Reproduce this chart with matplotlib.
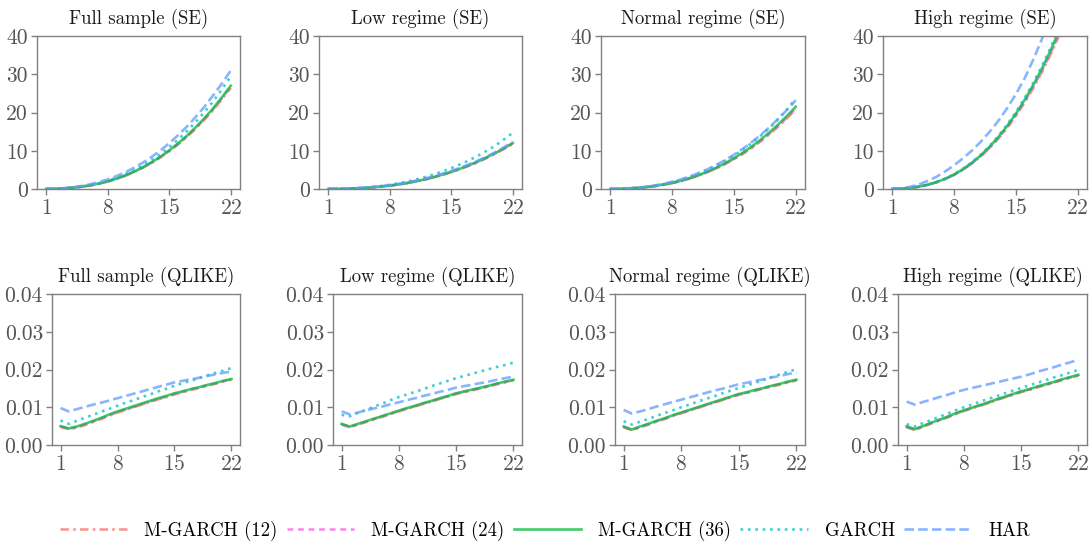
import matplotlib
matplotlib.use("Agg")
import matplotlib.pyplot as plt

plt.rcParams["font.family"] = ["cmr10", "DejaVu Serif"]
plt.rcParams["axes.formatter.use_mathtext"] = True

horizons = list(range(1, 23))
xticks = [1, 8, 15, 22]

models = ["M-GARCH (12)", "M-GARCH (24)", "M-GARCH (36)", "GARCH", "HAR"]
colors = ["#F8766D", "#F564E3", "#00BA38", "#00BFC4", "#619CFF"]

panel_titles_se = ["Full sample (SE)", "Low regime (SE)", "Normal regime (SE)", "High regime (SE)"]
panel_titles_ql = ["Full sample (QLIKE)", "Low regime (QLIKE)", "Normal regime (QLIKE)", "High regime (QLIKE)"]

# ---- squared-error loss by horizon ----
se_full_m12 = [0.01, 0.06, 0.16, 0.33, 0.58, 0.93, 1.38, 1.95, 2.64, 3.47, 4.44, 5.56, 6.84, 8.27, 9.88, 11.65, 13.6, 15.75, 18.1, 20.65, 23.5, 26.4]
se_full_m24 = [0.01, 0.06, 0.16, 0.33, 0.59, 0.95, 1.40, 1.98, 2.68, 3.52, 4.50, 5.63, 6.92, 8.36, 10.0, 11.8, 13.75, 15.9, 18.3, 20.9, 23.75, 26.7]
se_full_m36 = [0.01, 0.06, 0.16, 0.34, 0.60, 0.96, 1.42, 2.0, 2.71, 3.56, 4.55, 5.69, 6.99, 8.45, 10.1, 11.9, 13.9, 16.1, 18.5, 21.1, 24.0, 27.0]
se_full_garch = [0.01, 0.06, 0.17, 0.36, 0.64, 1.03, 1.53, 2.15, 2.92, 3.84, 4.92, 6.15, 7.56, 9.15, 10.95, 12.9, 15.1, 17.5, 20.1, 22.9, 26.1, 29.5]
se_full_har = [0.01, 0.08, 0.22, 0.45, 0.79, 1.23, 1.81, 2.52, 3.37, 4.38, 5.56, 6.89, 8.40, 10.1, 11.97, 14.07, 16.3, 18.8, 21.5, 24.5, 27.6, 31.0]

se_low_m12 = [0.005, 0.025, 0.07, 0.15, 0.26, 0.42, 0.63, 0.87, 1.18, 1.55, 1.99, 2.48, 3.05, 3.69, 4.41, 5.2, 6.07, 7.03, 8.08, 9.22, 10.46, 11.8]
se_low_m24 = [0.005, 0.025, 0.07, 0.15, 0.26, 0.43, 0.63, 0.88, 1.19, 1.56, 2.01, 2.5, 3.08, 3.72, 4.45, 5.24, 6.12, 7.09, 8.15, 9.31, 10.56, 11.9]
se_low_m36 = [0.005, 0.025, 0.07, 0.15, 0.26, 0.43, 0.64, 0.89, 1.2, 1.58, 2.03, 2.53, 3.11, 3.76, 4.49, 5.29, 6.18, 7.16, 8.23, 9.40, 10.66, 12.0]
se_low_garch = [0.01, 0.04, 0.1, 0.2, 0.35, 0.55, 0.8, 1.12, 1.5, 1.96, 2.5, 3.1, 3.8, 4.58, 5.45, 6.42, 7.48, 8.65, 9.93, 11.32, 12.95, 14.7]
se_low_har = [0.01, 0.04, 0.1, 0.19, 0.32, 0.5, 0.73, 1.0, 1.34, 1.74, 2.2, 2.73, 3.33, 3.99, 4.72, 5.53, 6.42, 7.4, 8.46, 9.6, 10.9, 12.3]

se_norm_m12 = [0.01, 0.04, 0.12, 0.26, 0.45, 0.73, 1.1, 1.54, 2.08, 2.75, 3.51, 4.39, 5.39, 6.51, 7.78, 9.17, 10.71, 12.42, 14.27, 16.28, 18.47, 20.8]
se_norm_m24 = [0.01, 0.04, 0.13, 0.26, 0.46, 0.74, 1.11, 1.55, 2.1, 2.77, 3.55, 4.44, 5.44, 6.58, 7.86, 9.26, 10.82, 12.55, 14.41, 16.44, 18.65, 21.0]
se_norm_m36 = [0.01, 0.045, 0.13, 0.27, 0.47, 0.76, 1.14, 1.59, 2.15, 2.84, 3.63, 4.54, 5.57, 6.73, 8.04, 9.48, 11.07, 12.84, 14.75, 16.83, 19.09, 21.5]
se_norm_garch = [0.01, 0.05, 0.15, 0.31, 0.54, 0.86, 1.27, 1.78, 2.4, 3.14, 4.0, 4.98, 6.1, 7.35, 8.75, 10.3, 12.0, 13.87, 15.9, 18.2, 20.8, 23.6]
se_norm_har = [0.01, 0.06, 0.17, 0.34, 0.59, 0.92, 1.35, 1.89, 2.52, 3.28, 4.16, 5.15, 6.28, 7.56, 8.95, 10.5, 12.2, 14.06, 16.08, 18.33, 20.65, 23.2]

se_high_m12 = [0.016, 0.1, 0.28, 0.6, 1.08, 1.74, 2.6, 3.68, 5.01, 6.62, 8.49, 10.66, 13.15, 15.96, 19.1, 22.65, 26.53, 30.8, 35.5, 40.64, 46.17, 52.09]
se_high_m24 = [0.016, 0.1, 0.28, 0.61, 1.09, 1.75, 2.63, 3.71, 5.07, 6.68, 8.58, 10.77, 13.29, 16.12, 19.31, 22.88, 26.8, 31.12, 35.87, 41.06, 46.65, 52.63]
se_high_m36 = [0.016, 0.1, 0.29, 0.62, 1.11, 1.79, 2.68, 3.79, 5.17, 6.82, 8.75, 10.99, 13.56, 16.45, 19.7, 23.35, 27.35, 31.75, 36.6, 41.9, 47.6, 53.7]
se_high_garch = [0.016, 0.1, 0.3, 0.63, 1.13, 1.83, 2.73, 3.87, 5.27, 6.96, 8.93, 11.21, 13.83, 16.78, 20.09, 23.82, 27.9, 32.39, 37.33, 42.74, 48.55, 54.77]
se_high_har = [0.05, 0.2, 0.55, 1.2, 2.1, 3.2, 4.6, 6.2, 8.0, 10.0, 12.3, 14.9, 17.8, 21.1, 24.8, 29.0, 34.0, 39.5, 45.3, 51.5, 58.0, 64.8]

# ---- QLIKE loss by horizon ----
ql_full_m12 = [.0048, .0042, .0046, .0053, .0061, .0069, .0078, .0086, .0093, .0100, .0107, .0114, .0121, .0127, .0134, .0140, .0146, .0151, .0157, .0162, .0168, .0173]
ql_full_m24 = [.0049, .0043, .0047, .0054, .0062, .0070, .0079, .0087, .0094, .0101, .0108, .0115, .0122, .0128, .0135, .0141, .0147, .0152, .0158, .0163, .0169, .0174]
ql_full_m36 = [.0050, .0044, .0049, .0056, .0064, .0072, .0081, .0089, .0096, .0103, .0110, .0117, .0124, .0130, .0137, .0142, .0148, .0153, .0159, .0164, .0170, .0175]
ql_full_garch = [.0065, .0056, .0064, .0072, .0080, .0088, .0096, .0104, .0112, .0119, .0127, .0134, .0142, .0149, .0157, .0164, .0170, .0177, .0184, .0191, .0197, .0204]
ql_full_har = [.0098, .0089, .0095, .0101, .0107, .0112, .0118, .0124, .0130, .0136, .0142, .0148, .0154, .0160, .0166, .0170, .0174, .0178, .0183, .0187, .0191, .0195]

ql_low_m12 = [.0054, .0047, .0054, .0061, .0068, .0075, .0082, .0089, .0096, .0102, .0109, .0115, .0122, .0128, .0135, .0140, .0145, .0150, .0155, .0161, .0166, .0171]
ql_low_m24 = [.0055, .0048, .0055, .0062, .0069, .0076, .0083, .0090, .0097, .0103, .0110, .0116, .0123, .0129, .0136, .0141, .0146, .0151, .0156, .0162, .0167, .0172]
ql_low_m36 = [.0056, .0049, .0056, .0063, .0070, .0077, .0084, .0091, .0098, .0104, .0111, .0117, .0124, .0130, .0137, .0142, .0147, .0152, .0157, .0163, .0168, .0173]
ql_low_garch = [.0080, .0076, .0085, .0093, .0102, .0110, .0119, .0127, .0134, .0141, .0148, .0156, .0163, .0170, .0177, .0183, .0189, .0195, .0201, .0207, .0212, .0218]
ql_low_har = [.0089, .0081, .0086, .0092, .0097, .0102, .0108, .0113, .0119, .0124, .0130, .0135, .0141, .0146, .0152, .0156, .0160, .0164, .0168, .0173, .0177, .0181]

ql_norm_m12 = [.0047, .0039, .0047, .0054, .0062, .0069, .0077, .0084, .0091, .0098, .0105, .0112, .0119, .0126, .0133, .0138, .0144, .0149, .0155, .0160, .0166, .0171]
ql_norm_m24 = [.0048, .0040, .0048, .0055, .0063, .0070, .0078, .0085, .0092, .0099, .0106, .0113, .0120, .0127, .0134, .0139, .0145, .0150, .0156, .0161, .0167, .0172]
ql_norm_m36 = [.0049, .0041, .0049, .0056, .0064, .0071, .0079, .0086, .0093, .0100, .0107, .0114, .0121, .0128, .0135, .0140, .0146, .0151, .0157, .0162, .0168, .0173]
ql_norm_garch = [.0063, .0054, .0062, .0069, .0077, .0085, .0092, .0100, .0107, .0115, .0122, .0129, .0137, .0144, .0151, .0158, .0165, .0172, .0180, .0187, .0194, .0201]
ql_norm_har = [.0093, .0083, .0089, .0095, .0102, .0108, .0114, .0120, .0126, .0132, .0138, .0144, .0149, .0155, .0161, .0165, .0170, .0174, .0179, .0183, .0188, .0192]

ql_high_m12 = [.0047, .0040, .0048, .0057, .0065, .0073, .0082, .0090, .0097, .0104, .0111, .0119, .0126, .0133, .0140, .0146, .0153, .0159, .0165, .0172, .0178, .0184]
ql_high_m24 = [.0048, .0041, .0049, .0058, .0066, .0074, .0083, .0091, .0098, .0105, .0112, .0120, .0127, .0134, .0141, .0147, .0154, .0160, .0166, .0173, .0179, .0185]
ql_high_m36 = [.0049, .0042, .0050, .0059, .0067, .0075, .0084, .0092, .0099, .0106, .0113, .0121, .0128, .0135, .0142, .0148, .0155, .0161, .0167, .0174, .0180, .0186]
ql_high_garch = [.0055, .0049, .0058, .0066, .0075, .0083, .0092, .0100, .0107, .0115, .0122, .0129, .0137, .0144, .0151, .0158, .0165, .0172, .0179, .0185, .0192, .0199]
ql_high_har = [.0115, .0107, .0114, .0120, .0127, .0133, .0140, .0146, .0151, .0156, .0161, .0166, .0171, .0176, .0181, .0187, .0194, .0200, .0206, .0213, .0219, .0226]

se_panels = [
    [se_full_m12, se_full_m24, se_full_m36, se_full_garch, se_full_har],
    [se_low_m12, se_low_m24, se_low_m36, se_low_garch, se_low_har],
    [se_norm_m12, se_norm_m24, se_norm_m36, se_norm_garch, se_norm_har],
    [se_high_m12, se_high_m24, se_high_m36, se_high_garch, se_high_har],
]
ql_panels = [
    [ql_full_m12, ql_full_m24, ql_full_m36, ql_full_garch, ql_full_har],
    [ql_low_m12, ql_low_m24, ql_low_m36, ql_low_garch, ql_low_har],
    [ql_norm_m12, ql_norm_m24, ql_norm_m36, ql_norm_garch, ql_norm_har],
    [ql_high_m12, ql_high_m24, ql_high_m36, ql_high_garch, ql_high_har],
]

line_styles = [
    dict(linestyle=(0, (3.2, 1.6, 1.0, 1.6))),
    dict(linestyle=(0, (2.2, 1.8))),
    dict(linestyle="-"),
    dict(linestyle=(0, (1.0, 1.8))),
    dict(linestyle=(0, (3.6, 1.6))),
]

W, H = 1090, 546
fig = plt.figure(figsize=(W / 100, H / 100), dpi=100)


def px_axes(left, top, right, bottom):
    return fig.add_axes([left / W, 1 - bottom / H, (right - left) / W, (bottom - top) / H])


top_lefts = [37, 319, 601, 883]
bot_lefts = [52, 333, 615, 898]
rights = [240, 522, 805, 1087]

grey = "#808080"
tick_grey = "#555555"


def style_axes(ax, title, ylim, yticks, yfmt):
    ax.set_xlim(-0.05, 23.05)
    ax.set_ylim(*ylim)
    ax.set_xticks(xticks)
    ax.set_yticks(yticks)
    ax.set_yticklabels([yfmt.format(v) for v in yticks])
    ax.set_title(title, fontsize=13.5, color="#1a1a1a", pad=9)
    for sp in ax.spines.values():
        sp.set_color(grey)
        sp.set_linewidth(1.0)
    ax.tick_params(axis="both", direction="out", length=4, width=1.0,
                   color=grey, labelcolor=tick_grey, labelsize=15.5, pad=2.5)


handles = []
for i in range(4):
    ax = px_axes(top_lefts[i], 36, rights[i], 189)
    for j, series in enumerate(se_panels[i]):
        ln, = ax.plot(horizons, series, color=colors[j], lw=1.9, alpha=0.75,
                      label=models[j], **line_styles[j])
        if i == 0:
            handles.append(ln)
    style_axes(ax, panel_titles_se[i], (0, 40), [0, 10, 20, 30, 40], "{:.0f}")

    ax = px_axes(bot_lefts[i], 294, rights[i], 445)
    for j, series in enumerate(ql_panels[i]):
        ax.plot(horizons, series, color=colors[j], lw=1.9, alpha=0.75, **line_styles[j])
    style_axes(ax, panel_titles_ql[i], (0, 0.04), [0, 0.01, 0.02, 0.03, 0.04], "{:.2f}")

fig.legend(handles=handles, labels=models, loc="center", bbox_to_anchor=(0.5, 1 - 531 / H),
           ncol=5, frameon=False, fontsize=13.5, handlelength=3.6, handletextpad=0.9,
           columnspacing=0.5)

fig.savefig("out.png", dpi=100)
